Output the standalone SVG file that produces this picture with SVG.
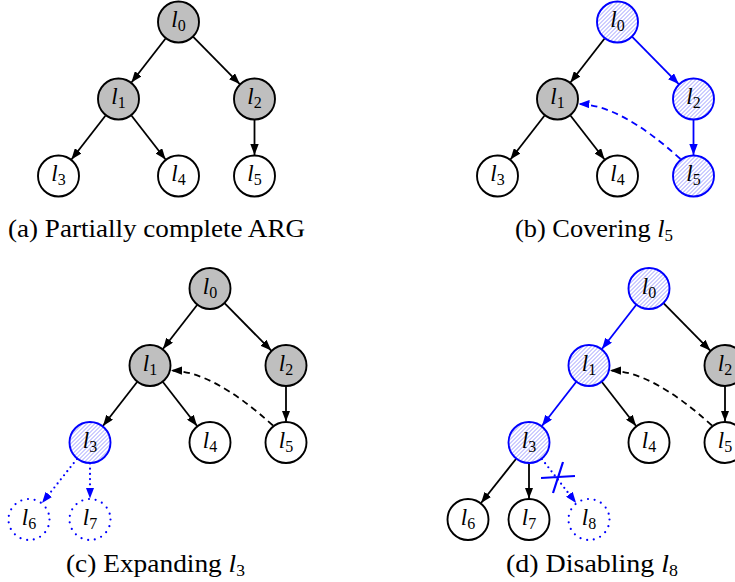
<svg xmlns="http://www.w3.org/2000/svg" width="735" height="582" viewBox="0 0 735 582">
  <defs>
    <!-- north-east hatching used for highlighted nodes -->
    <pattern id="hatch" patternUnits="userSpaceOnUse" width="4" height="4">
      <rect width="4" height="4" fill="#fff"/>
      <path d="M-1,1 l2,-2 M0,4 l4,-4 M3,5 l2,-2" stroke="#8080ff" stroke-width="0.8"/>
    </pattern>
    <marker id="ak" viewBox="0 0 11 8.4" refX="11" refY="4.2" markerWidth="11" markerHeight="8.4" markerUnits="userSpaceOnUse" orient="auto">
      <path d="M0,0 L11,4.2 L0,8.4 z" fill="#000"/>
    </marker>
    <marker id="ab" viewBox="0 0 11 8.4" refX="11" refY="4.2" markerWidth="11" markerHeight="8.4" markerUnits="userSpaceOnUse" orient="auto">
      <path d="M0,0 L11,4.2 L0,8.4 z" fill="#00f"/>
    </marker>
    <style>
      .n { stroke:#000; stroke-width:1.9; fill:#fff }
      .g { fill:#bfbfbf }
      .h { stroke:#00f; fill:url(#hatch) }
      .o { stroke:#00f; stroke-width:2.2; stroke-dasharray:0 6.78; stroke-linecap:round; fill:#fff }
      .e { stroke:#000; stroke-width:1.8; fill:none; marker-end:url(#ak) }
      .b { stroke:#00f; marker-end:url(#ab) }
      .dash { stroke-dasharray:6.5 4.5 }
      .dot { stroke-dasharray:0 5.2; stroke-linecap:round; stroke-width:2.2 }
      .x { stroke:#00f; stroke-width:2.2; fill:none }
      text { font-family:"Liberation Serif","DejaVu Serif",serif; fill:#000 }
      .lbl { font-size:23px; text-anchor:middle }
      .it { font-style:italic }
      .sub { font-size:16px }
      .cap { font-size:25px; text-anchor:middle }
    </style>
  </defs>

  <!-- (a) Partially complete ARG -->
  <g id="panel-a" transform="translate(178.5,22)">
    <g id="a-edges">
      <line class="e" x1="-12.91" y1="16.56" x2="-47.09" y2="60.44"/>
      <line class="e" x1="14.75" y1="14.95" x2="61.25" y2="62.05"/>
      <line class="e" x1="-72.91" y1="93.56" x2="-107.09" y2="137.44"/>
      <line class="e" x1="-47.09" y1="93.56" x2="-12.91" y2="137.44"/>
      <line class="e" x1="76" y1="98" x2="76" y2="133"/>
    </g>
    <g id="a-l0"><circle class="n g" cx="0" cy="0" r="20.5"/><text class="lbl" x="0" y="5"><tspan class="it">l</tspan><tspan class="sub" dy="4">0</tspan></text></g>
    <g id="a-l1"><circle class="n g" cx="-60" cy="77" r="20.5"/><text class="lbl" x="-60" y="82"><tspan class="it">l</tspan><tspan class="sub" dy="4">1</tspan></text></g>
    <g id="a-l2"><circle class="n g" cx="76" cy="77" r="20.5"/><text class="lbl" x="76" y="82"><tspan class="it">l</tspan><tspan class="sub" dy="4">2</tspan></text></g>
    <g id="a-l3"><circle class="n" cx="-120" cy="154" r="20.5"/><text class="lbl" x="-120" y="159"><tspan class="it">l</tspan><tspan class="sub" dy="4">3</tspan></text></g>
    <g id="a-l4"><circle class="n" cx="0" cy="154" r="20.5"/><text class="lbl" x="0" y="159"><tspan class="it">l</tspan><tspan class="sub" dy="4">4</tspan></text></g>
    <g id="a-l5"><circle class="n" cx="76" cy="154" r="20.5"/><text class="lbl" x="76" y="159"><tspan class="it">l</tspan><tspan class="sub" dy="4">5</tspan></text></g>
  </g>
  <text class="cap" x="156.5" y="237" textLength="297" lengthAdjust="spacingAndGlyphs">(a) Partially complete ARG</text>

  <!-- (b) Covering l5 -->
  <g id="panel-b" transform="translate(617.5,22)">
    <g id="b-edges">
      <line class="e" x1="-12.91" y1="16.56" x2="-47.09" y2="60.44"/>
      <line class="e b" x1="14.75" y1="14.95" x2="61.25" y2="62.05"/>
      <line class="e" x1="-72.91" y1="93.56" x2="-107.09" y2="137.44"/>
      <line class="e" x1="-47.09" y1="93.56" x2="-12.91" y2="137.44"/>
      <line class="e b" x1="76" y1="98" x2="76" y2="133"/>
      <path class="e b dash" d="M63,137 Q3,82.5 -39,82"/>
    </g>
    <g id="b-l0"><circle class="n h" cx="0" cy="0" r="20.5"/><text class="lbl" x="0" y="5"><tspan class="it">l</tspan><tspan class="sub" dy="4">0</tspan></text></g>
    <g id="b-l1"><circle class="n g" cx="-60" cy="77" r="20.5"/><text class="lbl" x="-60" y="82"><tspan class="it">l</tspan><tspan class="sub" dy="4">1</tspan></text></g>
    <g id="b-l2"><circle class="n h" cx="76" cy="77" r="20.5"/><text class="lbl" x="76" y="82"><tspan class="it">l</tspan><tspan class="sub" dy="4">2</tspan></text></g>
    <g id="b-l3"><circle class="n" cx="-120" cy="154" r="20.5"/><text class="lbl" x="-120" y="159"><tspan class="it">l</tspan><tspan class="sub" dy="4">3</tspan></text></g>
    <g id="b-l4"><circle class="n" cx="0" cy="154" r="20.5"/><text class="lbl" x="0" y="159"><tspan class="it">l</tspan><tspan class="sub" dy="4">4</tspan></text></g>
    <g id="b-l5"><circle class="n h" cx="76" cy="154" r="20.5"/><text class="lbl" x="76" y="159"><tspan class="it">l</tspan><tspan class="sub" dy="4">5</tspan></text></g>
  </g>
  <text class="cap" x="594" y="237" textLength="158" lengthAdjust="spacingAndGlyphs">(b) Covering <tspan class="it">l</tspan><tspan class="sub" dy="4">5</tspan></text>

  <!-- (c) Expanding l3 -->
  <g id="panel-c" transform="translate(210,288.5)">
    <g id="c-edges">
      <line class="e" x1="-12.91" y1="16.56" x2="-47.09" y2="60.44"/>
      <line class="e" x1="14.75" y1="14.95" x2="61.25" y2="62.05"/>
      <line class="e" x1="-72.91" y1="93.56" x2="-107.09" y2="137.44"/>
      <line class="e" x1="-47.09" y1="93.56" x2="-12.91" y2="137.44"/>
      <line class="e" x1="76" y1="98" x2="76" y2="133"/>
      <path class="e dash" d="M63,137 Q3,82.5 -39,82"/>
      <line class="e b dot" x1="-133.04" y1="170.46" x2="-167.96" y2="214.54"/>
      <line class="e b dot" x1="-120" y1="175" x2="-120" y2="210"/>
    </g>
    <g id="c-l0"><circle class="n g" cx="0" cy="0" r="20.5"/><text class="lbl" x="0" y="5"><tspan class="it">l</tspan><tspan class="sub" dy="4">0</tspan></text></g>
    <g id="c-l1"><circle class="n g" cx="-60" cy="77" r="20.5"/><text class="lbl" x="-60" y="82"><tspan class="it">l</tspan><tspan class="sub" dy="4">1</tspan></text></g>
    <g id="c-l2"><circle class="n g" cx="76" cy="77" r="20.5"/><text class="lbl" x="76" y="82"><tspan class="it">l</tspan><tspan class="sub" dy="4">2</tspan></text></g>
    <g id="c-l3"><circle class="n h" cx="-120" cy="154" r="20.5"/><text class="lbl" x="-120" y="159"><tspan class="it">l</tspan><tspan class="sub" dy="4">3</tspan></text></g>
    <g id="c-l4"><circle class="n" cx="0" cy="154" r="20.5"/><text class="lbl" x="0" y="159"><tspan class="it">l</tspan><tspan class="sub" dy="4">4</tspan></text></g>
    <g id="c-l5"><circle class="n" cx="76" cy="154" r="20.5"/><text class="lbl" x="76" y="159"><tspan class="it">l</tspan><tspan class="sub" dy="4">5</tspan></text></g>
    <g id="c-l6"><circle class="o" cx="-181" cy="231" r="20.5"/><text class="lbl" x="-181" y="236"><tspan class="it">l</tspan><tspan class="sub" dy="4">6</tspan></text></g>
    <g id="c-l7"><circle class="o" cx="-120" cy="231" r="20.5"/><text class="lbl" x="-120" y="236"><tspan class="it">l</tspan><tspan class="sub" dy="4">7</tspan></text></g>
  </g>
  <text class="cap" x="155.5" y="572" textLength="179" lengthAdjust="spacingAndGlyphs">(c) Expanding <tspan class="it">l</tspan><tspan class="sub" dy="4">3</tspan></text>

  <!-- (d) Disabling l8 -->
  <g id="panel-d" transform="translate(649,288.5)">
    <g id="d-edges">
      <line class="e b" x1="-12.91" y1="16.56" x2="-47.09" y2="60.44"/>
      <line class="e" x1="14.75" y1="14.95" x2="61.25" y2="62.05"/>
      <line class="e b" x1="-72.91" y1="93.56" x2="-107.09" y2="137.44"/>
      <line class="e" x1="-47.09" y1="93.56" x2="-12.91" y2="137.44"/>
      <line class="e" x1="76" y1="98" x2="76" y2="133"/>
      <path class="e dash" d="M63,137 Q3,82.5 -39,82"/>
      <line class="e" x1="-133.04" y1="170.46" x2="-167.96" y2="214.54"/>
      <line class="e" x1="-120" y1="175" x2="-120" y2="210"/>
      <line class="e b dot" x1="-107.09" y1="170.56" x2="-72.91" y2="214.44"/>
      <path class="x" d="M-108,189.5 L-74,187.5 M-86,173.5 L-96,204.5"/>
    </g>
    <g id="d-l0"><circle class="n h" cx="0" cy="0" r="20.5"/><text class="lbl" x="0" y="5"><tspan class="it">l</tspan><tspan class="sub" dy="4">0</tspan></text></g>
    <g id="d-l1"><circle class="n h" cx="-60" cy="77" r="20.5"/><text class="lbl" x="-60" y="82"><tspan class="it">l</tspan><tspan class="sub" dy="4">1</tspan></text></g>
    <g id="d-l2"><circle class="n g" cx="76" cy="77" r="20.5"/><text class="lbl" x="76" y="82"><tspan class="it">l</tspan><tspan class="sub" dy="4">2</tspan></text></g>
    <g id="d-l3"><circle class="n h" cx="-120" cy="154" r="20.5"/><text class="lbl" x="-120" y="159"><tspan class="it">l</tspan><tspan class="sub" dy="4">3</tspan></text></g>
    <g id="d-l4"><circle class="n" cx="0" cy="154" r="20.5"/><text class="lbl" x="0" y="159"><tspan class="it">l</tspan><tspan class="sub" dy="4">4</tspan></text></g>
    <g id="d-l5"><circle class="n" cx="76" cy="154" r="20.5"/><text class="lbl" x="76" y="159"><tspan class="it">l</tspan><tspan class="sub" dy="4">5</tspan></text></g>
    <g id="d-l6"><circle class="n" cx="-181" cy="231" r="20.5"/><text class="lbl" x="-181" y="236"><tspan class="it">l</tspan><tspan class="sub" dy="4">6</tspan></text></g>
    <g id="d-l7"><circle class="n" cx="-120" cy="231" r="20.5"/><text class="lbl" x="-120" y="236"><tspan class="it">l</tspan><tspan class="sub" dy="4">7</tspan></text></g>
    <g id="d-l8"><circle class="o" cx="-60" cy="231" r="20.5"/><text class="lbl" x="-60" y="236"><tspan class="it">l</tspan><tspan class="sub" dy="4">8</tspan></text></g>
  </g>
  <text class="cap" x="592" y="572" textLength="172" lengthAdjust="spacingAndGlyphs">(d) Disabling <tspan class="it">l</tspan><tspan class="sub" dy="4">8</tspan></text>
</svg>
